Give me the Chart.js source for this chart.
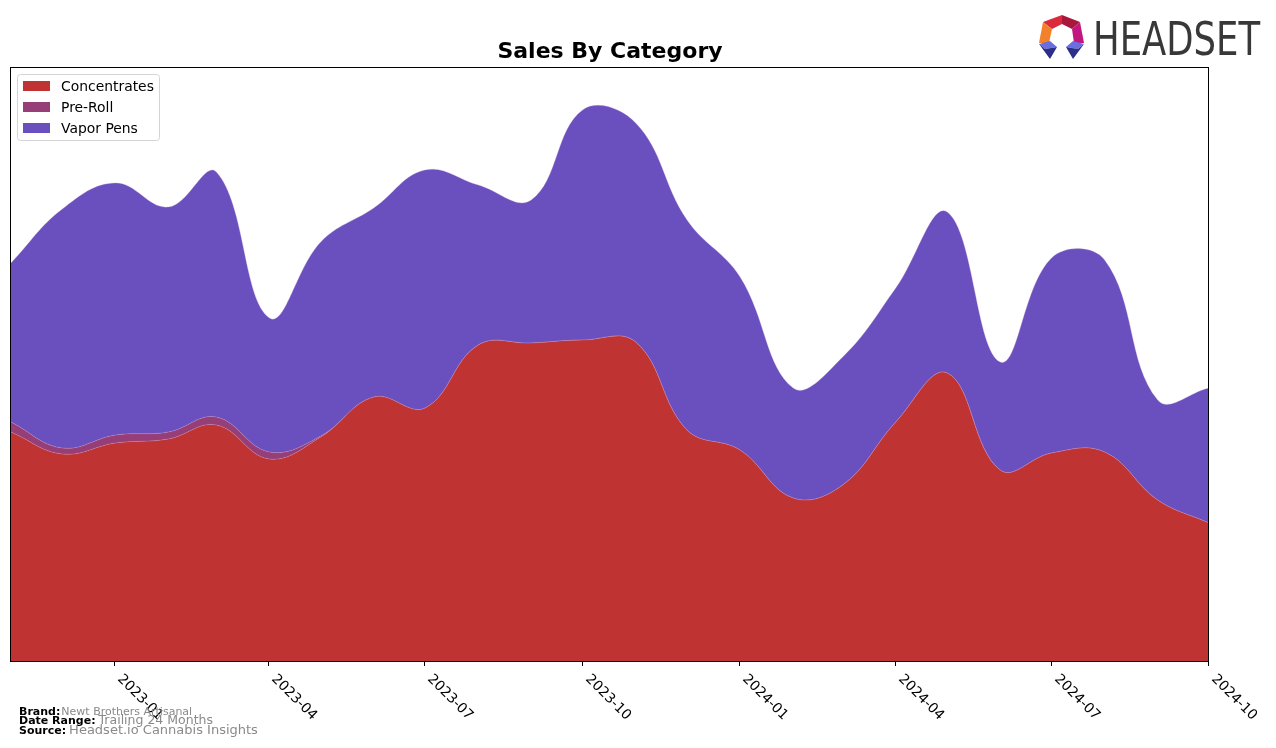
<!DOCTYPE html>
<html>
<head>
<meta charset="utf-8">
<title>Sales By Category</title>
<script src="https://cdn.jsdelivr.net/npm/chart.js"></script>
<style>
  html, body { margin: 0; padding: 0; background: #fff; }
  canvas { display: block; }
</style>
</head>
<body>
<canvas id="salesChart" width="1276" height="748"></canvas>
<script>
// monthly data (no y axis shown, so units are arbitrary)
const months = ['2022-11', '2022-12', '2023-01', '2023-02', '2023-03', '2023-04', '2023-05', '2023-06',
  '2023-07', '2023-08', '2023-09', '2023-10', '2023-11', '2023-12', '2024-01', '2024-02',
  '2024-03', '2024-04', '2024-05', '2024-06', '2024-07', '2024-08', '2024-09', '2024-10'];
const concentrates = [229, 207, 218, 222, 236, 202, 224, 264, 253, 316, 318, 321,
  319, 231, 211, 163, 176, 239, 288, 191, 208, 209, 161, 138];
const preRoll = [10, 6, 8, 7, 8, 7, 1, 0, 0, 0, 0, 0,
  0, 0, 0, 0, 0, 0, 0, 0, 0, 0, 0, 0];
const vaporPens = [159, 239, 252, 225, 245, 134, 194, 189, 238, 160, 143, 230,
  219, 210, 173, 110, 128, 134, 161, 108, 195, 192, 100, 135];
const tickLabels = ['2023-01', '2023-04', '2023-07', '2023-10', '2024-01', '2024-04', '2024-07', '2024-10'];
const yTop = 594;

const seriesNames = ['Concentrates', 'Pre-Roll', 'Vapor Pens'];
const seriesColors = ['#C03333', '#963E78', '#6A4FBE'];

function dayOffset(ym) {
  const [y, m] = ym.split('-').map(Number);
  const [y0, m0] = months[0].split('-').map(Number);
  return (Date.UTC(y, m - 1, 1) - Date.UTC(y0, m0 - 1, 1)) / 86400000;
}
const toPoints = vals => vals.map((v, i) => ({ x: dayOffset(months[i]), y: v }));

const FONT = '"DejaVu Sans", Verdana, sans-serif';

function drawLogo(ctx) {
  const poly = (pts, color) => {
    ctx.beginPath();
    ctx.moveTo(pts[0][0], pts[0][1]);
    for (let i = 1; i < pts.length; i++) ctx.lineTo(pts[i][0], pts[i][1]);
    ctx.closePath();
    ctx.fillStyle = color;
    ctx.fill();
  };
  const T = [1062, 15], UR = [1080, 22], R = [1084, 43], L = [1039, 43], UL = [1043, 22];
  const t = [1062, 24], ur = [1072, 29], r = [1074, 43], l = [1049, 43], ul = [1052, 29];
  poly([UL, T, t, ul], '#DA2A3B');
  poly([T, UR, ur, t], '#A9183C');
  poly([L, UL, ul, l], '#F3802A');
  poly([UR, R, r, ur], '#C2177F');
  // bottom feet
  poly([[1039, 44], [1050, 41], [1057, 47], [1045, 49]], '#6B6EE0');
  poly([[1039, 44], [1045, 49], [1057, 47], [1050, 59]], '#2B2F8A');
  poly([[1084, 44], [1073, 41], [1066, 47], [1078, 49]], '#6B6EE0');
  poly([[1084, 44], [1078, 49], [1066, 47], [1073, 59]], '#2B2F8A');

  ctx.save();
  ctx.font = '47px "Liberation Sans Narrow", "DejaVu Sans Condensed", "Liberation Sans", sans-serif';
  const w = ctx.measureText('HEADSET').width;
  ctx.translate(1093, 55);
  ctx.scale(167 / w, 1);
  ctx.fillStyle = '#383838';
  ctx.textAlign = 'left';
  ctx.textBaseline = 'alphabetic';
  ctx.fillText('HEADSET', 0, 0);
  ctx.restore();
}

const decorations = {
  id: 'decorations',
  afterDraw(chart) {
    const ctx = chart.ctx;
    const area = chart.chartArea;
    const xs = chart.scales.x;
    ctx.save();

    // frame
    ctx.strokeStyle = '#000';
    ctx.lineWidth = 1;
    ctx.strokeRect(10.5, area.top + 0.5, area.right - 11, area.bottom - area.top);

    // x ticks and rotated labels
    ctx.font = '13.9px ' + FONT;
    ctx.fillStyle = '#000';
    ctx.textAlign = 'left';
    ctx.textBaseline = 'top';
    tickLabels.forEach(lbl => {
      const x = Math.round(xs.getPixelForValue(dayOffset(lbl))) - 0.5;
      ctx.beginPath();
      ctx.moveTo(x, area.bottom);
      ctx.lineTo(x, area.bottom + 5);
      ctx.stroke();
      ctx.save();
      ctx.translate(x + 10, area.bottom + 11);
      ctx.rotate(Math.PI / 4);
      ctx.fillText(lbl, 0, 0);
      ctx.restore();
    });

    // title
    ctx.font = 'bold 22px ' + FONT;
    ctx.textAlign = 'center';
    ctx.textBaseline = 'alphabetic';
    ctx.fillText('Sales By Category', 610, 58);

    // legend
    ctx.beginPath();
    ctx.roundRect(17.5, 74.5, 142, 66, 3);
    ctx.fillStyle = 'rgba(255,255,255,0.8)';
    ctx.fill();
    ctx.strokeStyle = '#d4d4d4';
    ctx.lineWidth = 1;
    ctx.stroke();
    ctx.font = '13.9px ' + FONT;
    ctx.textAlign = 'left';
    ctx.textBaseline = 'middle';
    chart.data.datasets.forEach((ds, i) => {
      const cy = 86 + i * 21;
      ctx.fillStyle = ds.backgroundColor;
      ctx.fillRect(23, cy - 5, 27, 10);
      ctx.fillStyle = '#000';
      ctx.fillText(ds.label, 61, cy + 1);
    });

    // footer
    const footer = [
      ['Brand:', 'Newt Brothers Artisanal', 715, 11],
      ['Date Range:', 'Trailing 24 Months', 724, 12.5],
      ['Source:', 'Headset.io Cannabis Insights', 734, 13]
    ];
    ctx.textBaseline = 'alphabetic';
    footer.forEach(([k, v, y, size]) => {
      ctx.font = 'bold 11px ' + FONT;
      ctx.fillStyle = '#000';
      ctx.fillText(k, 19, y);
      const w = ctx.measureText(k).width;
      ctx.font = size + 'px ' + FONT;
      ctx.fillStyle = '#8a8a8a';
      ctx.fillText(v, 19 + w + (k === 'Brand:' ? 1 : 3), y);
    });

    drawLogo(ctx);
    ctx.restore();
  }
};

const seriesValues = [concentrates, preRoll, vaporPens];
const datasets = seriesNames.map((name, i) => ({
  label: name,
  data: toPoints(seriesValues[i]),
  backgroundColor: seriesColors[i],
  borderColor: 'rgba(200,160,215,0.5)',
  borderWidth: 0.6,
  fill: i === 0 ? 'origin' : '-1',
  pointRadius: 0,
  tension: 0.4
}));

new Chart(document.getElementById('salesChart'), {
  type: 'line',
  data: { datasets: datasets },
  options: {
    responsive: false,
    animation: false,
    devicePixelRatio: 1,
    layout: { padding: { left: 11, top: 67, right: 67, bottom: 87 } },
    plugins: {
      legend: { display: false },
      title: { display: false },
      tooltip: { enabled: false }
    },
    scales: {
      x: { type: 'linear', display: false, min: 0, max: dayOffset(months[months.length - 1]) },
      y: { display: false, stacked: true, min: 0, max: yTop }
    }
  },
  plugins: [decorations]
});
</script>
</body>
</html>
